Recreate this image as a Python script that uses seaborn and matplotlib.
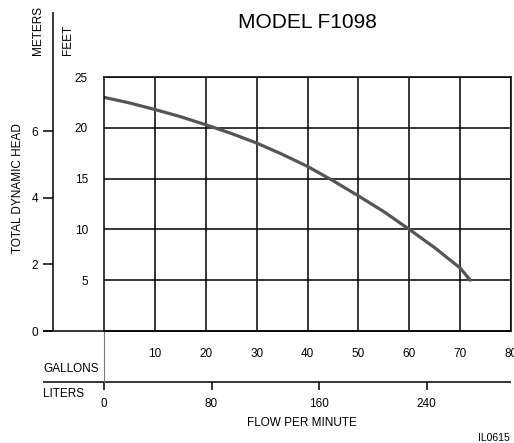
import matplotlib
matplotlib.use("Agg")
import matplotlib.pyplot as plt
import seaborn as sns
import pandas as pd

# pump curve: flow (US gallons/min) vs head (feet)
flow_gpm = [0, 5, 10, 15, 20, 25, 30, 35, 40, 45, 50, 55, 60, 65, 70, 72]
head_ft = [23.0, 22.45, 21.8, 21.1, 20.3, 19.45, 18.5, 17.4, 16.2, 14.8, 13.3, 11.75, 10.0, 8.2, 6.2, 5.0]

gallon_ticks = [10, 20, 30, 40, 50, 60, 70, 80]
feet_ticks = [5, 10, 15, 20, 25]
meter_ticks = [0, 2, 4, 6]
liter_ticks = [0, 80, 160, 240]

FT_PER_M = 3.2808
L_PER_GAL = 3.78541

sns.set_style("white")
plt.rcParams['font.family'] = ['Liberation Sans', 'DejaVu Sans']
plt.rcParams.update({"text.color": "black", "axes.labelcolor": "black",
                     "xtick.color": "black", "ytick.color": "black"})

W, H = 514, 443
fig = plt.figure(figsize=(W / 100, H / 100), dpi=100)
ax = fig.add_axes([104 / W, 1 - 331 / H, 407 / W, 254 / H])

df = pd.DataFrame({"gpm": flow_gpm, "ft": head_ft})
sns.lineplot(data=df, x="gpm", y="ft", ax=ax, color="#555555", linewidth=2.3, sort=False)

ax.set_xlim(0, 80)
ax.set_ylim(0, 25)
ax.set_xticks(gallon_ticks)
ax.set_yticks(feet_ticks)
ax.set_xlabel("")
ax.set_ylabel("")
ax.grid(True, color="black", linewidth=1.1)
for s in ax.spines.values():
    s.set_color("black")
    s.set_linewidth(1.1)
ax.tick_params(axis="x", length=0, pad=12, labelsize=8.5, labelcolor="black")
ax.tick_params(axis="y", length=7.5, width=1.1, pad=4, labelsize=8.5, color="black", labelcolor="black")

# meters scale on the far left
sec_y = ax.secondary_yaxis(-0.125, functions=(lambda f: f / FT_PER_M, lambda m: m * FT_PER_M))
sec_y.set_yticks(meter_ticks)
sec_y.tick_params(length=7, width=1.1, pad=4, labelsize=8.5, color="black", labelcolor="black")
sec_y.spines["left"].set_visible(False)

# liters scale below
sec_x = ax.secondary_xaxis(-0.2, functions=(lambda g: g * L_PER_GAL, lambda l: l / L_PER_GAL))
sec_x.set_xticks(liter_ticks)
sec_x.tick_params(length=6, width=1.1, pad=6, labelsize=8.5, color="black", labelcolor="black")
sec_x.spines["bottom"].set_visible(False)

# extended frame lines
kw = dict(color="black", linewidth=1.1, clip_on=False, solid_capstyle="butt")
ax.plot([-12, 80], [0, 0], **kw)
ax.plot([-12, 80], [-5, -5], **kw)
ax.plot([-10, -10], [0, 31.4], **kw)
ax.plot([0, 0], [-5, 0], color="#777777", linewidth=0.8, clip_on=False)

fig.text(307 / W, 1 - 22 / H, "MODEL F1098", ha="center", va="center", fontsize=15)
fig.text(38 / W, 1 - 55 / H, "METERS", rotation=90, ha="center", va="bottom", fontsize=8.5)
fig.text(68 / W, 1 - 55 / H, "FEET", rotation=90, ha="center", va="bottom", fontsize=8.5)
fig.text(18 / W, 1 - 188 / H, "TOTAL DYNAMIC HEAD", rotation=90, ha="center", va="center", fontsize=8.5)
fig.text(43 / W, 1 - 369 / H, "GALLONS", ha="left", va="center", fontsize=8.5)
fig.text(43 / W, 1 - 394 / H, "LITERS", ha="left", va="center", fontsize=8.5)
fig.text(302 / W, 1 - 423 / H, "FLOW PER MINUTE", ha="center", va="center", fontsize=8.5)
fig.text(510 / W, 1 - 438 / H, "IL0615", ha="right", va="center", fontsize=7.5)

fig.savefig("out.png", dpi=100, facecolor="white")
